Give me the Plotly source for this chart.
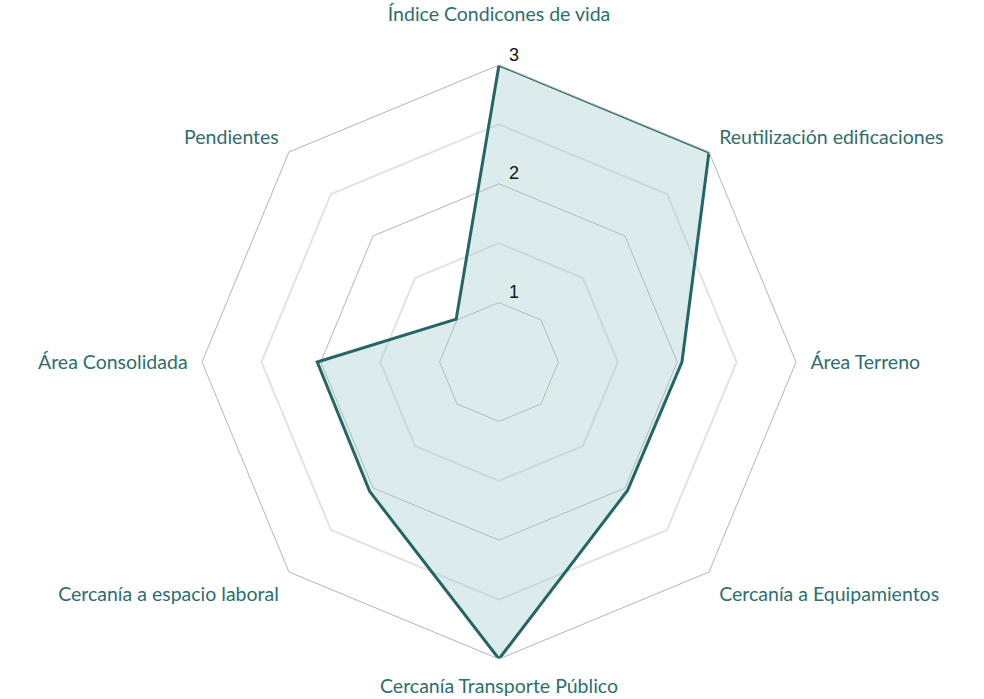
import plotly.graph_objects as go

# Indicator scores per criterion
categories = [
    "Índice Condicones de vida",
    "Reutilización edificaciones",
    "Área Terreno",
    "Cercanía a Equipamientos",
    "Cercanía Transporte Público",
    "Cercanía a espacio laboral",
    "Área Consolidada",
    "Pendientes",
]
scores = [3.0, 3.0, 2.04, 2.03, 3.0, 2.04, 2.03, 1.01]

# Radial scale and ticks
radial_range = [0.5, 3]
major_ticks = [1, 2, 3]
minor_rings = [1.5, 2.5]

TEAL = "#246565"
LABEL = "#2e6e6e"
NBSP = "\u00a0"

# The top label gets a blank second line so it sits clear of the scale number
tick_labels = [categories[0] + "<br>" + NBSP] + categories[1:]

fig = go.Figure()

# Lighter intermediate rings drawn as closed polygons on the category axis
for ring in minor_rings:
    fig.add_trace(go.Scatterpolar(
        r=[ring] * (len(categories) + 1),
        theta=categories + categories[:1],
        mode="lines",
        line=dict(color="#e3e3e3", width=2),
        hoverinfo="skip",
        showlegend=False,
    ))

fig.add_trace(go.Scatterpolar(
    r=scores + scores[:1],
    theta=categories + categories[:1],
    mode="lines",
    fill="toself",
    fillcolor="rgba(162, 204, 204, 0.38)",
    line=dict(color=TEAL, width=3),
    showlegend=False,
))

# Radial scale numbers set just above each major ring on the vertical spoke
fig.add_trace(go.Scatterpolar(
    r=major_ticks,
    theta=[categories[0]] * len(major_ticks),
    mode="text",
    text=[NBSP + NBSP + str(v) for v in major_ticks],
    textposition="top right",
    textfont=dict(family="Liberation Sans, Arial", size=18, color="#111111"),
    cliponaxis=False,
    hoverinfo="skip",
    showlegend=False,
))

fig.update_layout(
    width=984,
    height=699,
    margin=dict(l=202, r=188, t=65, b=40),
    paper_bgcolor="white",
    plot_bgcolor="white",
    showlegend=False,
    polar=dict(
        bgcolor="rgba(0,0,0,0)",
        gridshape="linear",
        radialaxis=dict(
            range=radial_range,
            tickvals=major_ticks,
            showticklabels=False,
            showline=False,
            ticks="",
            gridcolor="#b5b5b5",
            gridwidth=1,
        ),
        angularaxis=dict(
            direction="clockwise",
            rotation=90,
            tickmode="array",
            tickvals=categories,
            ticktext=tick_labels,
            showgrid=False,
            showline=True,
            linecolor="#b5b5b5",
            linewidth=1,
            ticks="outside",
            ticklen=10,
            tickcolor="rgba(0,0,0,0)",
            tickfont=dict(family="Lato", size=19.5, color=LABEL),
        ),
    ),
)

fig.write_html("out.html")
